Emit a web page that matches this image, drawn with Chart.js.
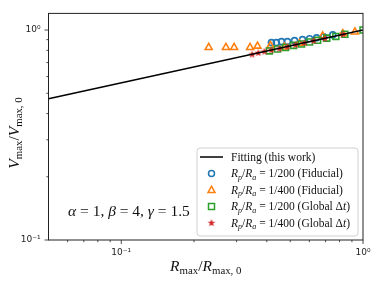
<!DOCTYPE html>
<html>
<head>
<meta charset="utf-8">
<script src="https://cdn.jsdelivr.net/npm/chart.js@4.4.1/dist/chart.umd.min.js"></script>
<style>
  html, body { margin: 0; padding: 0; background: #fff; }
</style>
</head>
<body>
<canvas id="grafico" width="378" height="281"></canvas>
<script>
// ajuste (this work), recta en log-log
const ajusteX = [0.05, 1];
const ajusteY = [0.471, 1];

// Rp/Ra = 1/200 (Fiducial)
const fid200X = [0.418, 0.438, 0.460, 0.487, 0.521, 0.562, 0.601, 0.643, 0.688, 0.750];
const fid200Y = [0.871, 0.871, 0.881, 0.881, 0.890, 0.900, 0.909, 0.918, 0.929, 0.948];

// Rp/Ra = 1/400 (Fiducial)
const fid400X = [0.230, 0.271, 0.293, 0.341, 0.366, 0.414, 0.473, 0.546, 0.681, 0.825, 0.926];
const fid400Y = [0.826, 0.826, 0.826, 0.826, 0.838, 0.844, 0.830, 0.862, 0.938, 0.962, 0.979];

// Rp/Ra = 1/200 (Global dt)
const glob200X = [0.410, 0.443, 0.478, 0.516, 0.557, 0.601, 0.649, 0.708, 0.772, 0.841, 1.0];
const glob200Y = [0.795, 0.812, 0.826, 0.845, 0.858, 0.877, 0.893, 0.915, 0.932, 0.955, 1.0];

// Rp/Ra = 1/400 (Global dt)
const glob400X = [0.348, 0.369, 0.391, 0.418, 0.451, 0.487, 0.526, 0.573, 0.625, 0.695, 0.826];
const glob400Y = [0.765, 0.778, 0.790, 0.802, 0.816, 0.833, 0.850, 0.868, 0.888, 0.911, 0.953];

// ticks
const xMayores = [0.1, 1];
const xEtiquetas = ['10⁻¹', '10⁰'];
const xMenores = [0.06, 0.07, 0.08, 0.09, 0.2, 0.3, 0.4, 0.5, 0.6, 0.7, 0.8, 0.9];
const yMayores = [0.1, 1];
const yEtiquetas = ['10⁻¹', '10⁰'];
const yMenores = [0.2, 0.3, 0.4, 0.5, 0.6, 0.7, 0.8, 0.9];

const colores = {
  azul: '#1f77b4',
  naranja: '#ff7f0e',
  verde: '#2ca02c',
  rojo: '#d62728'
};

function puntos(xs, ys) {
  return xs.map((x, i) => ({x: x, y: ys[i]}));
}

// estrella rellena (el 'star' de Chart.js es un asterisco)
function crearEstrella(r, color) {
  let c = document.createElement('canvas');
  let s = Math.ceil(r * 2 + 2);
  c.width = s; c.height = s;
  let g = c.getContext('2d');
  g.fillStyle = color;
  g.beginPath();
  for (let i = 0; i < 10; i++) {
    let ang = -Math.PI / 2 + i * Math.PI / 5;
    let rr = i % 2 === 0 ? r : r * 0.42;
    g.lineTo(s / 2 + rr * Math.cos(ang), s / 2 + rr * Math.sin(ang));
  }
  g.closePath();
  g.fill();
  return c;
}
const estrellaRoja = crearEstrella(4, colores.rojo);

// texto tipo mathtext: [texto, estilo] con r=roman, i=italica, sr/si=subindice
function textoMat(ctx, partes, x, y, tam, dibujar) {
  let cx = x;
  partes.forEach(function (p) {
    let sub = p[1][0] === 's';
    let ital = p[1].endsWith('i');
    let size = sub ? tam * 0.7 : tam;
    ctx.font = (ital ? 'italic ' : '') + size + 'px "Liberation Serif"';
    if (dibujar) ctx.fillText(p[0], cx, y + (sub ? tam * 0.22 : 0));
    cx += ctx.measureText(p[0]).width;
  });
  return cx - x;
}

const etiquetaY = [['V', 'i'], ['max', 'sr'], ['/', 'r'], ['V', 'i'], ['max, 0', 'sr']];
const etiquetaX = [['R', 'i'], ['max', 'sr'], ['/', 'r'], ['R', 'i'], ['max, 0', 'sr']];
const anotacion = [['α', 'i'], [' = 1, ', 'r'], ['β', 'i'], [' = 4, ', 'r'], ['γ', 'i'], [' = 1.5', 'r']];

const leyenda = [
  {tipo: 'linea', texto: [['Fitting (this work)', 'r']]},
  {tipo: 'circle', color: colores.azul, texto: [['R', 'i'], ['p', 'si'], ['/', 'r'], ['R', 'i'], ['a', 'si'], [' = 1/200 (Fiducial)', 'r']]},
  {tipo: 'triangle', color: colores.naranja, texto: [['R', 'i'], ['p', 'si'], ['/', 'r'], ['R', 'i'], ['a', 'si'], [' = 1/400 (Fiducial)', 'r']]},
  {tipo: 'rect', color: colores.verde, texto: [['R', 'i'], ['p', 'si'], ['/', 'r'], ['R', 'i'], ['a', 'si'], [' = 1/200 (Global Δ', 'r'], ['t', 'i'], [')', 'r']]},
  {tipo: 'star', color: colores.rojo, texto: [['R', 'i'], ['p', 'si'], ['/', 'r'], ['R', 'i'], ['a', 'si'], [' = 1/400 (Global Δ', 'r'], ['t', 'i'], [')', 'r']]}
];

const decoracion = {
  id: 'decoracion',
  afterDraw: function (chart) {
    let ctx = chart.ctx, a = chart.chartArea;
    let sx = chart.scales.x, sy = chart.scales.y;
    ctx.save();
    // marco
    ctx.strokeStyle = '#222';
    ctx.lineWidth = 1;
    ctx.strokeRect(a.left, a.top, a.right - a.left, a.bottom - a.top);
    // marcas de ticks hacia fuera
    ctx.lineWidth = 0.8;
    ctx.beginPath();
    xMayores.concat(xMenores).forEach(function (v) {
      let px = sx.getPixelForValue(v);
      let largo = xMayores.includes(v) ? 4 : 2.2;
      ctx.moveTo(px, a.bottom);
      ctx.lineTo(px, a.bottom + largo);
    });
    yMayores.concat(yMenores).forEach(function (v) {
      let py = sy.getPixelForValue(v);
      let largo = yMayores.includes(v) ? 4 : 2.2;
      ctx.moveTo(a.left, py);
      ctx.lineTo(a.left - largo, py);
    });
    ctx.stroke();

    // titulos de ejes
    ctx.fillStyle = '#111';
    ctx.textBaseline = 'alphabetic';
    let w = textoMat(ctx, etiquetaX, 0, 0, 15.5, false);
    textoMat(ctx, etiquetaX, (a.left + a.right) / 2 - w / 2, 271, 15.5, true);
    ctx.save();
    ctx.translate(19, 133);
    ctx.rotate(-Math.PI / 2);
    w = textoMat(ctx, etiquetaY, 0, 0, 15.5, false);
    textoMat(ctx, etiquetaY, -w / 2, 0, 15.5, true);
    ctx.restore();

    // anotacion de parametros
    textoMat(ctx, anotacion, 68, 216, 15.5, true);

    // leyenda
    let lx = 197, ly = 148, lw = 161, lh = 88;
    ctx.beginPath();
    ctx.roundRect(lx, ly, lw, lh, 3);
    ctx.fillStyle = 'rgba(255,255,255,0.85)';
    ctx.fill();
    ctx.strokeStyle = '#d0d0d0';
    ctx.lineWidth = 1;
    ctx.stroke();
    leyenda.forEach(function (e, i) {
      let cy = 157 + i * 16.5;
      let mx = 211.5;
      ctx.lineWidth = 1.5;
      if (e.tipo === 'linea') {
        ctx.strokeStyle = '#000';
        ctx.beginPath();
        ctx.moveTo(200, cy);
        ctx.lineTo(223, cy);
        ctx.stroke();
      } else if (e.tipo === 'circle') {
        ctx.strokeStyle = e.color;
        ctx.beginPath();
        ctx.arc(mx, cy, 3, 0, Math.PI * 2);
        ctx.stroke();
      } else if (e.tipo === 'triangle') {
        ctx.strokeStyle = e.color;
        ctx.beginPath();
        ctx.moveTo(mx, cy - 3.8);
        ctx.lineTo(mx + 3.5, cy + 2.6);
        ctx.lineTo(mx - 3.5, cy + 2.6);
        ctx.closePath();
        ctx.stroke();
      } else if (e.tipo === 'rect') {
        ctx.strokeStyle = e.color;
        ctx.strokeRect(mx - 3, cy - 3, 6, 6);
      } else {
        ctx.drawImage(estrellaRoja, mx - estrellaRoja.width / 2, cy - estrellaRoja.height / 2);
      }
      ctx.fillStyle = '#111';
      textoMat(ctx, e.texto, 231, cy + 3.5, 11.5, true);
    });
    ctx.restore();
  }
};

const estiloMarcador = {
  backgroundColor: 'rgba(0,0,0,0)',
  pointBorderWidth: 1.6,
  showLine: false
};

let grafico = new Chart(document.getElementById('grafico'), {
  type: 'scatter',
  data: {
    datasets: [
      {
        label: 'Fitting (this work)',
        data: puntos(ajusteX, ajusteY),
        showLine: true,
        borderColor: '#000',
        borderWidth: 1.5,
        pointRadius: 0,
        order: 0
      },
      Object.assign({}, estiloMarcador, {
        label: 'Rp/Ra = 1/200 (Fiducial)',
        data: puntos(fid200X, fid200Y),
        pointStyle: 'circle',
        pointRadius: 3,
        borderColor: colores.azul,
        order: 4
      }),
      Object.assign({}, estiloMarcador, {
        label: 'Rp/Ra = 1/400 (Fiducial)',
        data: puntos(fid400X, fid400Y),
        pointStyle: 'triangle',
        pointRadius: 4,
        borderColor: colores.naranja,
        order: 3
      }),
      Object.assign({}, estiloMarcador, {
        label: 'Rp/Ra = 1/200 (Global Δt)',
        data: puntos(glob200X, glob200Y),
        pointStyle: 'rect',
        pointRadius: 4.2,
        borderColor: colores.verde,
        order: 2
      }),
      Object.assign({}, estiloMarcador, {
        label: 'Rp/Ra = 1/400 (Global Δt)',
        data: puntos(glob400X, glob400Y),
        pointStyle: estrellaRoja,
        borderColor: colores.rojo,
        order: 1
      })
    ]
  },
  options: {
    responsive: false,
    animation: false,
    devicePixelRatio: 1,
    layout: {padding: {top: 6, right: 15, left: 0, bottom: 0}},
    plugins: {
      legend: {display: false},
      tooltip: {enabled: false}
    },
    scales: {
      x: {
        type: 'logarithmic',
        min: 0.05,
        max: 1,
        grid: {display: false, drawTicks: false},
        border: {display: false},
        afterBuildTicks: function (s) { s.ticks = xMayores.map(v => ({value: v})); },
        afterFit: function (s) { s.height = 41; },
        ticks: {
          autoSkip: false,
          maxRotation: 0,
          padding: 7,
          color: '#222',
          font: {family: 'DejaVu Sans', size: 9},
          callback: function (v) { return xEtiquetas[xMayores.indexOf(v)]; }
        }
      },
      y: {
        type: 'logarithmic',
        min: 0.1,
        max: 1.2,
        grid: {display: false, drawTicks: false},
        border: {display: false},
        afterBuildTicks: function (s) { s.ticks = yMayores.map(v => ({value: v})); },
        afterFit: function (s) { s.width = 48.5; },
        ticks: {
          autoSkip: false,
          padding: 8,
          color: '#222',
          font: {family: 'DejaVu Sans', size: 9},
          callback: function (v) { return yEtiquetas[yMayores.indexOf(v)]; }
        }
      }
    }
  },
  plugins: [decoracion]
});
</script>
</body>
</html>
